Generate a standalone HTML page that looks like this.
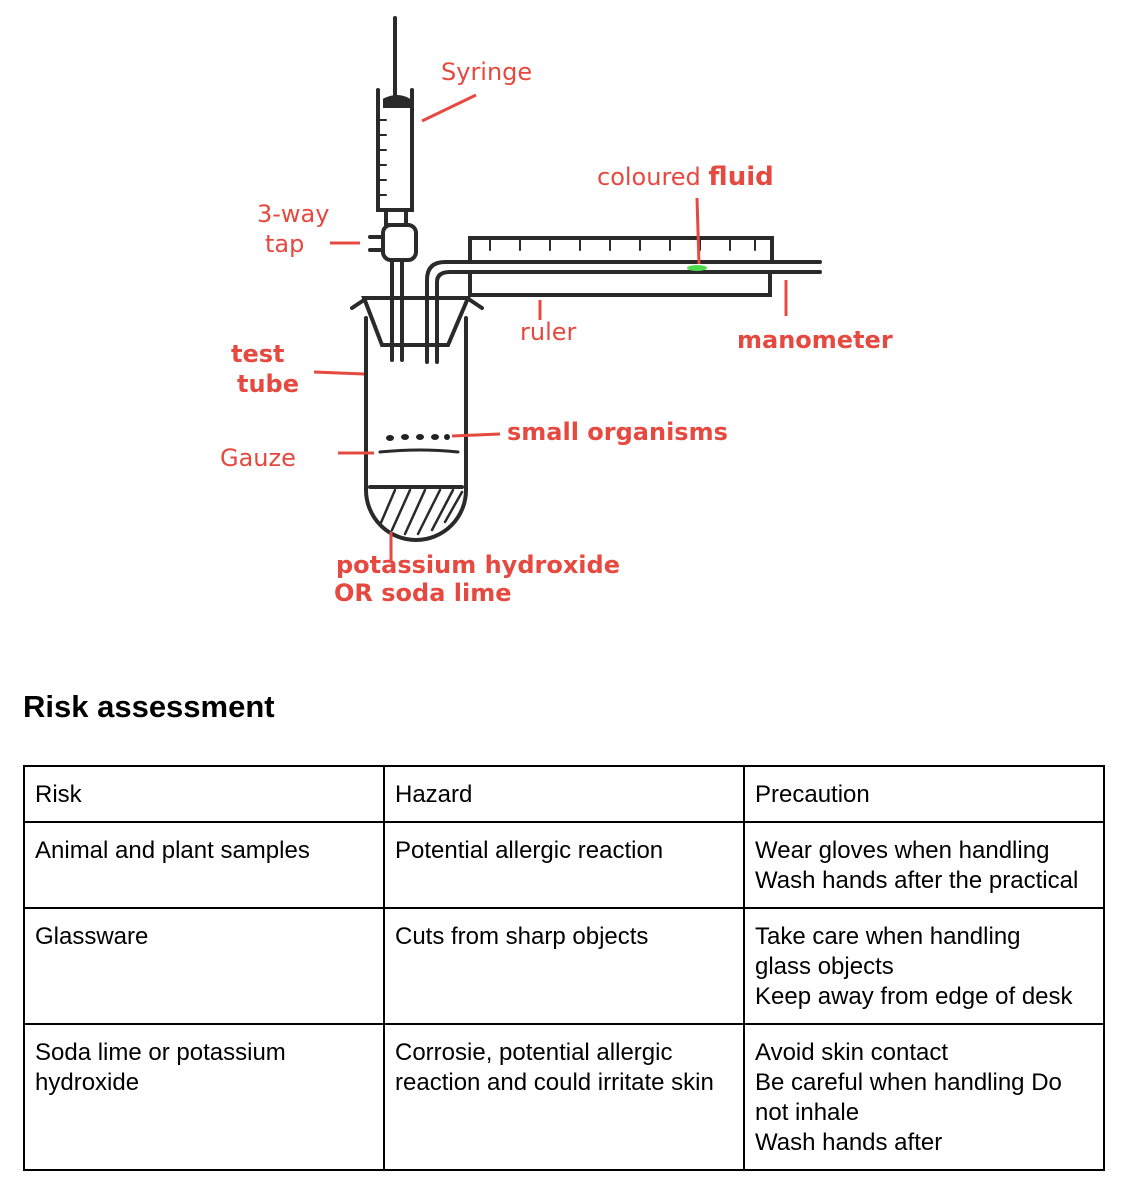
<!DOCTYPE html>
<html><head><meta charset="utf-8"><style>
body{margin:0;background:#fff;width:1125px;height:1189px;position:relative;overflow:hidden;font-family:"Liberation Sans",Arial,sans-serif;}
h2{position:absolute;left:23px;top:689px;margin:0;font-size:31px;font-weight:bold;color:#000;}
table{position:absolute;left:23px;top:765px;border-collapse:collapse;width:1080px;table-layout:fixed;}
td{border:2px solid #000;vertical-align:top;padding:13px 10px 0 10px;font-size:24px;line-height:30px;color:#000;white-space:nowrap;overflow:hidden;}
svg{position:absolute;left:0;top:0;}
.r{font-family:"DejaVu Sans",sans-serif;fill:#e5493f;font-size:24px;}
</style></head><body>
<svg width="1125" height="650" viewBox="0 0 1125 650">
<g stroke="#2a2a2a" stroke-width="4" fill="none" stroke-linecap="round">
<line x1="395" y1="18" x2="395" y2="98"/>
<path d="M378 90 V210 H412 V90"/>
<path d="M385 100 Q398 94 408 100 L408 106 L385 106 Z" fill="#2a2a2a"/>
<g stroke-width="2"><line x1="380" y1="120" x2="386" y2="120"/><line x1="380" y1="135" x2="386" y2="135"/><line x1="380" y1="150" x2="386" y2="150"/><line x1="380" y1="165" x2="386" y2="165"/><line x1="380" y1="180" x2="386" y2="180"/><line x1="380" y1="195" x2="386" y2="195"/></g>
<path d="M386 210 V225 H406 V210"/>
<rect x="383" y="225" width="33" height="35" rx="8"/>
<path d="M383 237 H370 M383 250 H370"/>
<path d="M392 260 V360 M402 260 V360"/>
<path d="M364 298 H468 L448 345 H382 Z"/>
<path d="M352 308 L364 300 M470 300 L482 308"/>
<path d="M366 318 V490 A50 50 0 0 0 466 490 V318"/>
<path d="M370 487 H462"/>
<g stroke-width="2.5"><line x1="380" y1="525" x2="395" y2="490"/><line x1="392" y1="530" x2="410" y2="490"/><line x1="405" y1="534" x2="425" y2="490"/><line x1="418" y1="534" x2="440" y2="490"/><line x1="432" y1="530" x2="453" y2="490"/><line x1="445" y1="522" x2="462" y2="492"/></g>
<path d="M380 452 Q420 448 458 452" stroke-width="3"/>
<path d="M427 362 V280 Q427 262 445 262 H820 M437 362 V282 Q437 272 450 272 H820"/>
<path d="M470 262 V238 H772 V262 M470 272 V295 H770 V272"/>
<g stroke-width="2"><line x1="490" y1="240" x2="490" y2="250"/><line x1="520" y1="240" x2="520" y2="250"/><line x1="550" y1="240" x2="550" y2="250"/><line x1="580" y1="240" x2="580" y2="250"/><line x1="610" y1="240" x2="610" y2="250"/><line x1="640" y1="240" x2="640" y2="250"/><line x1="670" y1="240" x2="670" y2="250"/><line x1="700" y1="240" x2="700" y2="250"/><line x1="730" y1="240" x2="730" y2="250"/><line x1="755" y1="240" x2="755" y2="250"/></g>
</g>
<g fill="#222"><ellipse cx="390" cy="438" rx="4" ry="3"/><ellipse cx="405" cy="437" rx="4" ry="3"/><ellipse cx="420" cy="437" rx="4" ry="3"/><ellipse cx="435" cy="437" rx="4" ry="3"/><ellipse cx="447" cy="437" rx="3" ry="3"/></g>
<ellipse cx="697" cy="268" rx="10" ry="3" fill="#4ddc4d"/>
<g stroke="#e5493f" stroke-width="3" fill="none">
<line x1="422" y1="121" x2="476" y2="95"/>
<line x1="697" y1="198" x2="699" y2="264"/>
<line x1="330" y1="243" x2="360" y2="243"/>
<line x1="314" y1="372" x2="364" y2="374"/>
<line x1="338" y1="453" x2="374" y2="453"/>
<line x1="452" y1="436" x2="500" y2="434"/>
<line x1="540" y1="300" x2="540" y2="320"/>
<line x1="786" y1="280" x2="786" y2="316"/>
<line x1="391" y1="532" x2="391" y2="560"/>
</g>
<text class="r" x="441" y="80">Syringe</text>
<text class="r" x="597" y="185" font-size="22">coloured <tspan font-weight="bold" font-size="26">fluid</tspan></text>
<text class="r" x="257" y="222" font-size="20">3-way</text>
<text class="r" x="265" y="252">tap</text>
<text class="r" x="520" y="340">ruler</text>
<text class="r" x="737" y="348" font-weight="bold">manometer</text>
<text class="r" x="231" y="362" font-weight="bold">test</text>
<text class="r" x="237" y="392" font-weight="bold">tube</text>
<text class="r" x="220" y="466">Gauze</text>
<text class="r" x="507" y="440" font-size="22" font-weight="bold">small organisms</text>
<text class="r" x="336" y="573" font-weight="bold">potassium hydroxide</text>
<text class="r" x="334" y="601" font-size="22" font-weight="bold">OR soda lime</text>
</svg>
<h2>Risk assessment</h2>
<table>
<colgroup><col style="width:360px"><col style="width:360px"><col style="width:360px"></colgroup>
<tr style="height:56px"><td>Risk</td><td>Hazard</td><td>Precaution</td></tr>
<tr style="height:86px"><td>Animal and plant samples</td><td>Potential allergic reaction</td><td>Wear gloves when handling<br>Wash hands after the practical</td></tr>
<tr style="height:116px"><td>Glassware</td><td>Cuts from sharp objects</td><td>Take care when handling<br>glass objects<br>Keep away from edge of desk</td></tr>
<tr style="height:146px"><td>Soda lime or potassium<br>hydroxide</td><td>Corrosie, potential allergic<br>reaction and could irritate skin</td><td>Avoid skin contact<br>Be careful when handling Do<br>not inhale<br>Wash hands after</td></tr>
</table>
</body></html>
